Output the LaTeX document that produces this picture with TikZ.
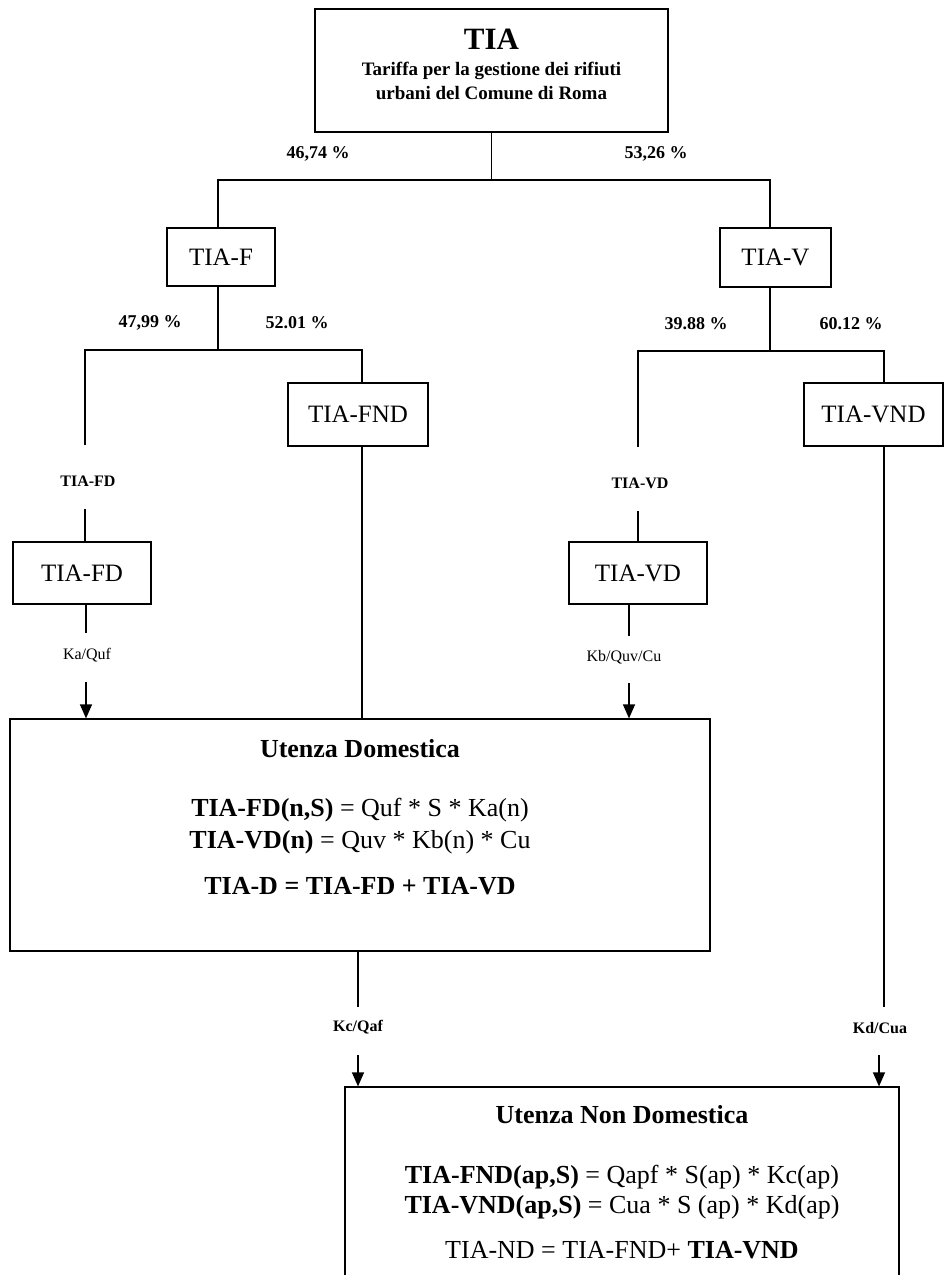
\documentclass[tikz,border=0pt]{standalone}
\usepackage{fontspec}
\setmainfont{Liberation Serif}
\usetikzlibrary{arrows.meta}
\begin{document}
\begin{tikzpicture}[x=1pt,y=-1pt,
  box/.style={draw, line width=1.2pt, inner sep=0pt},
  conn/.style={line width=1.2pt},
  arr/.style={conn, -{Triangle[length=14pt,width=12pt]}},
  lab/.style={font=\fontsize{25}{27}\selectfont},
  pct/.style={font=\fontsize{18}{20}\selectfont\bfseries},
  small/.style={font=\fontsize{16}{18}\selectfont},
  smallb/.style={font=\fontsize{16}{18}\selectfont\bfseries},
  big/.style={font=\fontsize{26}{28}\selectfont}]
\useasboundingbox (0,0) rectangle (944,1275);
\clip (0,0) rectangle (944,1275);
\fill[white] (0,0) rectangle (944,1275);

% boxes
\node[box, minimum width=353pt, minimum height=123pt] (tia) at (491.5,70.5) {};
\node[font=\fontsize{31}{33}\selectfont\bfseries] (tiaT) at (491.5,39) {TIA};
\node[font=\fontsize{19}{24}\selectfont\bfseries, align=center] (tiaS) at (491.5,81) {Tariffa per la gestione dei rifiuti\\urbani del Comune di Roma};

\node[box, lab, minimum width=108pt, minimum height=58pt] (tiaf) at (221,257) {TIA-F};
\node[box, lab, minimum width=111pt, minimum height=59pt] (tiav) at (775.5,257.5) {TIA-V};
\node[box, lab, minimum width=140pt, minimum height=63pt] (tiafnd) at (358,414.5) {TIA-FND};
\node[box, lab, minimum width=139pt, minimum height=63pt] (tiavnd) at (873.5,414.5) {TIA-VND};
\node[box, lab, minimum width=138pt, minimum height=62pt] (tiafd) at (82,573) {TIA-FD};
\node[box, lab, minimum width=138pt, minimum height=62pt] (tiavd) at (638,573) {TIA-VD};

\node[box, minimum width=700pt, minimum height=232pt] (ud) at (360,835) {};
\node[big, font=\fontsize{26}{28}\selectfont\bfseries] (udT) at (360,749) {Utenza Domestica};
\node[big] (udF1) at (360,810) {\textbf{TIA-FD(n,S)} = Quf * S * Ka(n)};
\node[big] (udF2) at (360,842) {\textbf{TIA-VD(n)} = Quv * Kb(n) * Cu};
\node[big] (udF3) at (360,886) {\textbf{TIA-D = TIA-FD + TIA-VD}};

\node[box, minimum width=554pt, minimum height=240pt] (und) at (622,1207) {};
\node[big, font=\fontsize{26}{28}\selectfont\bfseries] (undT) at (622,1115) {Utenza Non Domestica};
\node[big] (undF1) at (622,1177) {\textbf{TIA-FND(ap,S)} = Qapf * S(ap) * Kc(ap)};
\node[big] (undF2) at (622,1207) {\textbf{TIA-VND(ap,S)} = Cua * S (ap) * Kd(ap)};
\node[big] (undF3) at (622,1250) {TIA-ND = TIA-FND+ \textbf{TIA-VND}};

% percentages
\node[pct] (p1) at (318,154) {46,74 \%};
\node[pct] (p2) at (656,154) {53,26 \%};
\node[pct] (p3) at (150,323) {47,99 \%};
\node[pct] (p4) at (297,323) {52.01 \%};
\node[pct] (p5) at (696,324) {39.88 \%};
\node[pct] (p6) at (851,324) {60.12 \%};

% small labels
\node[smallb] (lFD) at (88,481) {TIA-FD};
\node[small] (lKa) at (87,655) {Ka/Quf};
\node[smallb] (lVD) at (640,483) {TIA-VD};
\node[small] (lKb) at (624,657) {Kb/Quv/Cu};
\node[smallb] (lKc) at (358,1027) {Kc/Qaf};
\node[smallb] (lKd) at (880,1028) {Kd/Cua};

% coordinates
\coordinate (j1) at (491.5,180);
\coordinate (aL) at (218,180);
\coordinate (aR) at (770,180);
\coordinate (bF) at (218,350);
\coordinate (bR) at (362,350);
\coordinate (cFD1) at (85,445);
\coordinate (cV) at (770,351);
\coordinate (dR) at (884,351);
\coordinate (cVD1) at (638,447);
\coordinate (cFD2) at (85,509);
\coordinate (cFD3) at (86,633);
\coordinate (cFD4) at (86,682);
\coordinate (cVD2) at (638,511);
\coordinate (cVD3) at (629,636);
\coordinate (cVD4) at (629,683);
\coordinate (cUD1) at (358,1007);
\coordinate (cUD2) at (358,1055);
\coordinate (cN1) at (884,1007);
\coordinate (cN2) at (879,1055);

% connectors
\draw[conn] (tia.south) -- (j1);
\draw[conn] (tiaf.north -| aL) |- (aR) -- (tiav.north -| aR);
\draw[conn] (tiaf.south -| bF) -- (bF);
\draw[conn] (cFD1) |- (bR) -- (tiafnd.north -| bR);
\draw[conn] (tiav.south -| cV) -- (cV);
\draw[conn] (cVD1) |- (dR) -- (tiavnd.north -| dR);
\draw[conn] (cFD2) -- (tiafd.north -| cFD2);
\draw[conn] (tiafd.south -| cFD3) -- (cFD3);
\draw[arr] (cFD4) -- (ud.north -| cFD4);
\draw[conn] (cVD2) -- (tiavd.north -| cVD2);
\draw[conn] (tiavd.south -| cVD3) -- (cVD3);
\draw[arr] (cVD4) -- (ud.north -| cVD4);
\draw[conn] (tiafnd.south -| bR) -- (ud.north -| bR);
\draw[conn] (ud.south -| cUD1) -- (cUD1);
\draw[arr] (cUD2) -- (und.north -| cUD2);
\draw[conn] (tiavnd.south -| cN1) -- (cN1);
\draw[arr] (cN2) -- (und.north -| cN2);
\end{tikzpicture}
\end{document}
